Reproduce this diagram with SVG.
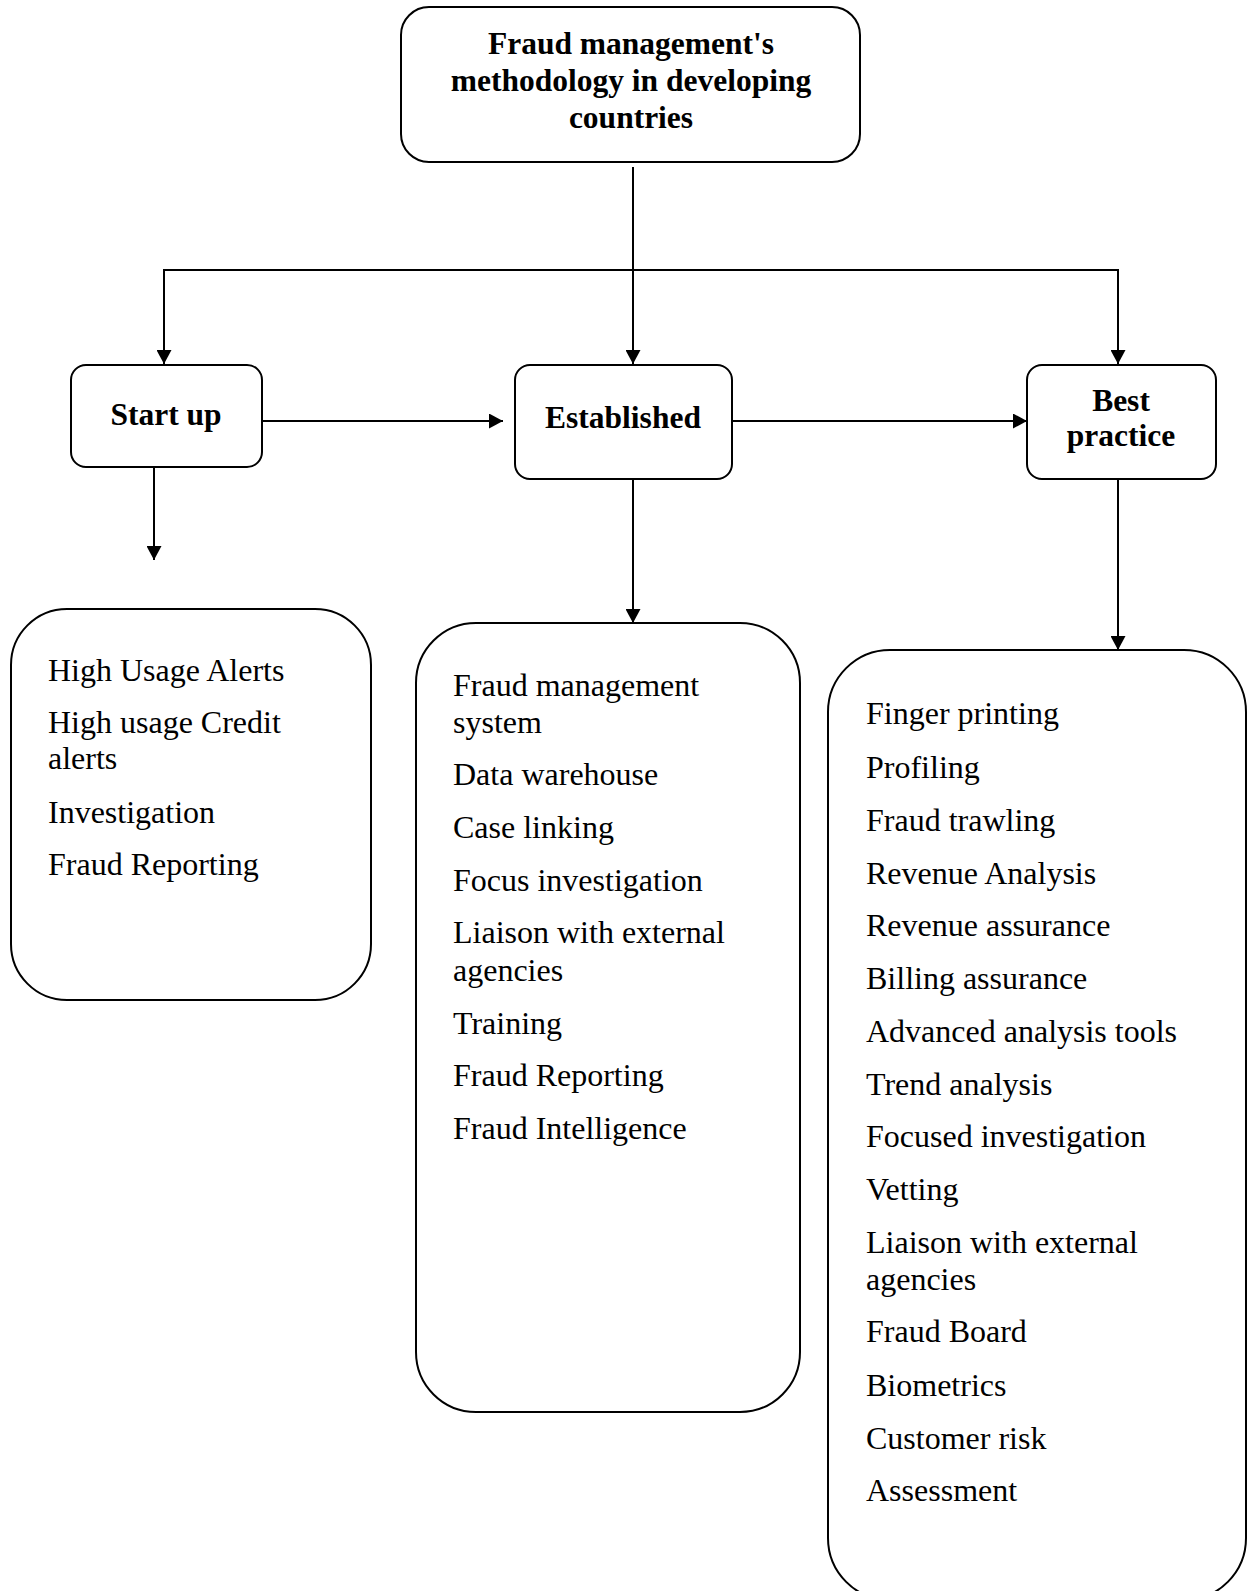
<svg xmlns="http://www.w3.org/2000/svg" width="1250" height="1591" viewBox="0 0 1250 1591">
<style>
.box{fill:#fff;stroke:#000;stroke-width:2}
.t{font-family:"Liberation Serif","Times New Roman",serif;font-size:32px;fill:#000}
.b{font-family:"Liberation Serif","Times New Roman",serif;font-size:31.5px;font-weight:bold;fill:#000;text-anchor:middle}
.c{fill:none;stroke:#000;stroke-width:2}
</style>
<defs>
<marker id="ah" markerWidth="14" markerHeight="15" refX="14" refY="7.5" orient="auto" markerUnits="userSpaceOnUse" viewBox="0 0 14 15">
<path d="M0,0 L14,7.5 L0,15 z" fill="#000"/>
</marker>
</defs>
<rect width="1250" height="1591" fill="#fff"/>
<g id="connectors">
<line class="c" x1="633" y1="167" x2="633" y2="364" marker-end="url(#ah)"/>
<polyline class="c" points="164,364 164,270 1118,270 1118,364" marker-end="url(#ah)"/>
<line class="c" x1="164" y1="280" x2="164" y2="364" marker-end="url(#ah)"/>
<line class="c" x1="262" y1="421" x2="503" y2="421" marker-end="url(#ah)"/>
<line class="c" x1="732" y1="421" x2="1027" y2="421" marker-end="url(#ah)"/>
<line class="c" x1="154" y1="467" x2="154" y2="560" marker-end="url(#ah)"/>
<line class="c" x1="633" y1="479" x2="633" y2="623" marker-end="url(#ah)"/>
<line class="c" x1="1118" y1="479" x2="1118" y2="650" marker-end="url(#ah)"/>
</g>
<g id="root">
<rect class="box" x="401" y="7" width="459" height="155" rx="28"/>
<text class="b" x="631" y="54">Fraud management's</text>
<text class="b" x="631" y="91">methodology in developing</text>
<text class="b" x="631" y="128">countries</text>
</g>
<g id="startup">
<rect class="box" x="71" y="365" width="191" height="102" rx="15"/>
<text class="b" x="166" y="425">Start up</text>
</g>
<g id="established">
<rect class="box" x="515" y="365" width="217" height="114" rx="15"/>
<text class="b" x="623" y="428">Established</text>
</g>
<g id="bestpractice">
<rect class="box" x="1027" y="365" width="189" height="114" rx="15"/>
<text class="b" x="1121" y="411">Best</text>
<text class="b" x="1121" y="446">practice</text>
</g>
<g id="startup-list">
<rect class="box" x="11" y="609" width="360" height="391" rx="56"/>
<text class="t" x="48" y="681">High Usage Alerts</text>
<text class="t" x="48" y="733">High usage Credit</text>
<text class="t" x="48" y="769">alerts</text>
<text class="t" x="48" y="823">Investigation</text>
<text class="t" x="48" y="875">Fraud Reporting</text>
</g>
<g id="established-list">
<rect class="box" x="416" y="623" width="384" height="789" rx="60"/>
<text class="t" x="453" y="696">Fraud management</text>
<text class="t" x="453" y="733">system</text>
<text class="t" x="453" y="785">Data warehouse</text>
<text class="t" x="453" y="838">Case linking</text>
<text class="t" x="453" y="891">Focus investigation</text>
<text class="t" x="453" y="943">Liaison with external</text>
<text class="t" x="453" y="981">agencies</text>
<text class="t" x="453" y="1034">Training</text>
<text class="t" x="453" y="1086">Fraud Reporting</text>
<text class="t" x="453" y="1139">Fraud Intelligence</text>
</g>
<g id="bestpractice-list">
<rect class="box" x="828" y="650" width="418" height="950" rx="62"/>
<text class="t" x="866" y="724">Finger printing</text>
<text class="t" x="866" y="778">Profiling</text>
<text class="t" x="866" y="831">Fraud trawling</text>
<text class="t" x="866" y="884">Revenue Analysis</text>
<text class="t" x="866" y="936">Revenue assurance</text>
<text class="t" x="866" y="989">Billing assurance</text>
<text class="t" x="866" y="1042">Advanced analysis tools</text>
<text class="t" x="866" y="1095">Trend analysis</text>
<text class="t" x="866" y="1147">Focused investigation</text>
<text class="t" x="866" y="1200">Vetting</text>
<text class="t" x="866" y="1253">Liaison with external</text>
<text class="t" x="866" y="1290">agencies</text>
<text class="t" x="866" y="1342">Fraud Board</text>
<text class="t" x="866" y="1396">Biometrics</text>
<text class="t" x="866" y="1449">Customer risk</text>
<text class="t" x="866" y="1501">Assessment</text>
</g>
</svg>
